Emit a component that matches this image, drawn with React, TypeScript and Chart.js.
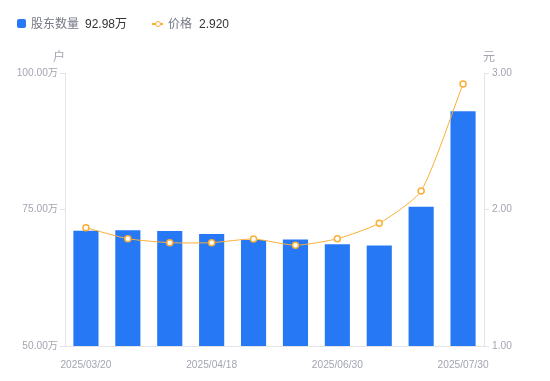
import React, { useEffect, useRef } from "react";
import { Chart, registerables } from "chart.js";

Chart.register(...registerables);

const categories = [
  "2025/03/20", "2025/03/31", "2025/04/10", "2025/04/18", "2025/04/30",
  "2025/05/20", "2025/06/30", "2025/07/10", "2025/07/20", "2025/07/30",
];
const holders = [71.12, 71.2, 71.06, 70.5, 69.4, 69.5, 68.63, 68.4, 75.52, 92.98];
const prices = [1.867, 1.786, 1.757, 1.757, 1.784, 1.738, 1.786, 1.899, 2.136, 2.92];
const leftTicks = [50, 75, 100];
const rightTicks = [1, 2, 3];

const BLUE = "#2678f5";
const ORANGE = "#fbae35";
const TICK = "#a3a5b1";
const AXIS = "#e3e4e8";
const FONT = "'Liberation Sans', 'Noto Sans CJK SC', sans-serif";

export default function App() {
  const ref = useRef<HTMLCanvasElement | null>(null);
  useEffect(() => {
    document.body.style.margin = "0";
    const chart = new Chart(ref.current as HTMLCanvasElement, {
      data: {
        labels: categories,
        datasets: [
          {
            type: "line",
            label: "价格",
            data: prices,
            yAxisID: "y1",
            borderColor: ORANGE,
            borderWidth: 1,
            pointRadius: 3,
            pointBorderWidth: 1.5,
            pointBackgroundColor: "#ffffff",
            pointBorderColor: ORANGE,
            tension: 0.2,
            order: 0,
          },
          {
            type: "bar",
            label: "股东数量",
            data: holders,
            yAxisID: "y",
            backgroundColor: BLUE,
            barPercentage: 0.6,
            categoryPercentage: 1,
            order: 1,
          },
        ],
      } as any,
      options: {
        animation: false,
        responsive: false,
        layout: { padding: { top: 73, left: 0, right: 0, bottom: 0 } },
        plugins: { legend: { display: false }, tooltip: { enabled: false } },
        scales: {
          x: {
            grid: { display: false },
            border: { display: true, color: AXIS },
            ticks: {
              color: TICK,
              font: { family: FONT, size: 10.2 },
              autoSkip: false,
              maxRotation: 0,
              padding: 5,
              callback: (_v: any, i: number) => (i % 3 === 0 ? categories[i] : ""),
            },
            afterFit: (s: any) => { s.height = 35; },
          },
          y: {
            position: "left",
            min: leftTicks[0],
            max: leftTicks[leftTicks.length - 1],
            afterBuildTicks: (s: any) => { s.ticks = leftTicks.map((v) => ({ value: v })); },
            grid: { drawOnChartArea: false, drawTicks: true, tickLength: 5, color: AXIS },
            border: { display: true, color: AXIS },
            ticks: {
              color: TICK,
              font: { family: FONT, size: 10.2 },
              padding: 2,
              callback: (v: any) => Number(v).toFixed(2) + "万",
            },
            afterFit: (s: any) => { s.width = 65; },
          },
          y1: {
            position: "right",
            min: rightTicks[0],
            max: rightTicks[rightTicks.length - 1],
            afterBuildTicks: (s: any) => { s.ticks = rightTicks.map((v) => ({ value: v })); },
            grid: { drawOnChartArea: false, drawTicks: true, tickLength: 5, color: AXIS },
            border: { display: true, color: AXIS },
            ticks: {
              color: TICK,
              font: { family: FONT, size: 10.2 },
              padding: 3,
              callback: (v: any) => Number(v).toFixed(2),
            },
            afterFit: (s: any) => { s.width = 66; },
          },
        },
      } as any,
    });
    return () => chart.destroy();
  }, []);

  const txt: React.CSSProperties = { position: "absolute", fontFamily: FONT, fontSize: 12, lineHeight: "14px", whiteSpace: "nowrap" };
  return (
    <div style={{ position: "fixed", left: 0, top: 0, width: 550, height: 381, background: "#fff" }}>
      <canvas ref={ref} width={550} height={381} style={{ position: "absolute", left: 0, top: 0 }} />
      <div style={{ position: "absolute", left: 17, top: 19, width: 9, height: 9, background: BLUE, borderRadius: 2 }} />
      <div style={{ ...txt, left: 31, top: 17, color: "#757784" }}>股东数量</div>
      <div style={{ ...txt, left: 85, top: 17, color: "#333" }}>92.98万</div>
      <div style={{ position: "absolute", left: 152, top: 23, width: 11, height: 1.5, background: ORANGE }} />
      <div style={{ position: "absolute", left: 154.5, top: 20.5, width: 4, height: 4, border: `1.5px solid ${ORANGE}`, borderRadius: "50%", background: "#fff" }} />
      <div style={{ ...txt, left: 168, top: 17, color: "#757784" }}>价格</div>
      <div style={{ ...txt, left: 199, top: 17, color: "#333" }}>2.920</div>
      <div style={{ ...txt, left: 53, top: 50, color: TICK }}>户</div>
      <div style={{ ...txt, left: 483, top: 50, color: TICK }}>元</div>
    </div>
  );
}
